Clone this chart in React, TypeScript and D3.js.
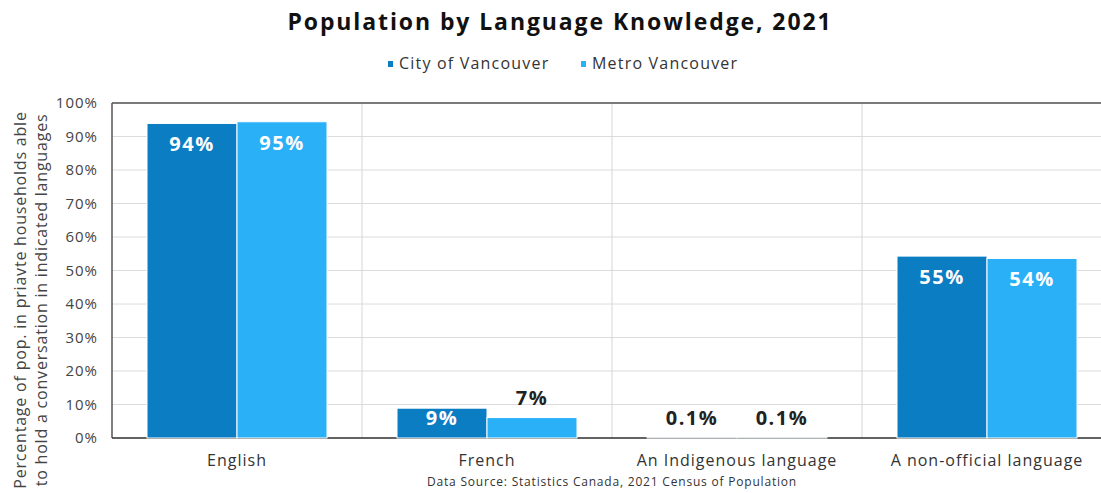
import React from "react";
import * as d3 from "d3";

const categories = ["English", "French", "An Indigenous language", "A non-official language"];
const seriesNames = ["City of Vancouver", "Metro Vancouver"];
const cityValues = [93.9, 8.9, 0.1, 54.3];
const metroValues = [94.4, 6.1, 0.1, 53.6];
const cityLabels = ["94%", "9%", "0.1%", "55%"];
const metroLabels = ["95%", "7%", "0.1%", "54%"];
const yTicks = [0, 10, 20, 30, 40, 50, 60, 70, 80, 90, 100];
const colors = ["#0b7dc3", "#2ab0f6"];
const title = "Population by Language Knowledge, 2021";
const yTitle = [
  "Percentage of pop. in priavte households able",
  "to hold a conversation in indicated languages",
];
const source = "Data Source: Statistics Canada, 2021 Census of Population";

const W = 1101;
const H = 493;
const FONT = "'Open Sans', 'DejaVu Sans', sans-serif";

export default function App() {
  const left = 112;
  const right = 1112;
  const top = 103;
  const bottom = 438;

  const x0 = d3.scaleBand<string>().domain(categories).range([left, right]).padding(0);
  const x1 = d3
    .scaleBand<string>()
    .domain(seriesNames)
    .range([0, x0.bandwidth()])
    .paddingInner(0)
    .paddingOuter(0.389);
  const y = d3.scaleLinear().domain([0, 100]).range([bottom, top]);

  const series = [
    { name: seriesNames[0], values: cityValues, labels: cityLabels, color: colors[0] },
    { name: seriesNames[1], values: metroValues, labels: metroLabels, color: colors[1] },
  ];

  return (
    <svg
      width={W}
      height={H}
      style={{ position: "absolute", left: 0, top: 0, background: "#fff", fontFamily: FONT }}
    >
      <text x={560} y={30} textAnchor="middle" fontSize={23} fontWeight={700} fill="#111" letterSpacing={1.9}>
        {title}
      </text>

      {/* legend */}
      {series.map((s, i) => {
        const lx = i === 0 ? 388 : 581;
        return (
          <g key={s.name}>
            <rect x={lx} y={61} width={5} height={6} fill={s.color} />
            <text x={lx + 11} y={69} fontSize={16} fill="#333" letterSpacing={1.2}>
              {s.name}
            </text>
          </g>
        );
      })}

      {/* horizontal grid */}
      {yTicks.map((t) => (
        <line key={t} x1={left} x2={right} y1={y(t)} y2={y(t)} stroke="#dcdcdc" strokeWidth={1} />
      ))}
      {/* vertical separators */}
      {categories.slice(1).map((c) => (
        <line
          key={c}
          x1={x0(c)!}
          x2={x0(c)!}
          y1={top}
          y2={bottom}
          stroke="#d6d6d6"
          strokeWidth={1}
        />
      ))}
      {/* frame */}
      <line x1={left} x2={right} y1={top} y2={top} stroke="#555" strokeWidth={1.5} />
      <line x1={left} x2={left} y1={top} y2={bottom} stroke="#555" strokeWidth={1.5} />
      <line x1={left} x2={right} y1={bottom} y2={bottom} stroke="#333" strokeWidth={1.5} />

      {/* y ticks */}
      {yTicks.map((t) => (
        <text key={t} x={98} y={y(t) + 5} textAnchor="end" fontSize={15} fill="#444" letterSpacing={1}>
          {t}%
        </text>
      ))}

      {/* y title */}
      <g transform="translate(26,300) rotate(-90)">
        <text x={0} y={0} textAnchor="middle" fontSize={16} fill="#444" letterSpacing={0.8}>
          {yTitle[0]}
        </text>
        <text x={0} y={21} textAnchor="middle" fontSize={16} fill="#444" letterSpacing={0.8}>
          {yTitle[1]}
        </text>
      </g>

      {/* bars */}
      {categories.map((c, ci) =>
        series.map((s) => {
          const bx = x0(c)! + x1(s.name)!;
          const bw = x1.bandwidth();
          const v = s.values[ci];
          const by = y(v);
          const bh = bottom - by;
          return (
            <rect
              key={c + s.name}
              x={bx}
              y={by}
              width={bw}
              height={bh}
              fill={s.color}
              stroke="#fff"
              strokeWidth={1}
            />
          );
        })
      )}

      {/* bar labels */}
      {categories.map((c, ci) =>
        series.map((s) => {
          const bx = x0(c)! + x1(s.name)!;
          const bw = x1.bandwidth();
          const v = s.values[ci];
          const by = y(v);
          const bh = bottom - by;
          const inside = bh > 25;
          const ly = inside ? by + Math.min(28, bh - 13) : by - 13;
          return (
            <text
              key={"l" + c + s.name}
              x={bx + bw / 2}
              y={ly}
              textAnchor="middle"
              fontSize={20}
              fontWeight={700}
              letterSpacing={1.5}
              fill={inside ? "#fff" : "#222"}
            >
              {s.labels[ci]}
            </text>
          );
        })
      )}

      {/* x labels */}
      {categories.map((c) => (
        <text
          key={"x" + c}
          x={x0(c)! + x0.bandwidth() / 2}
          y={466}
          textAnchor="middle"
          fontSize={16}
          fill="#333"
          letterSpacing={1}
        >
          {c}
        </text>
      ))}

      <text x={612} y={486} textAnchor="middle" fontSize={12} fill="#333" letterSpacing={0.8}>
        {source}
      </text>
    </svg>
  );
}
